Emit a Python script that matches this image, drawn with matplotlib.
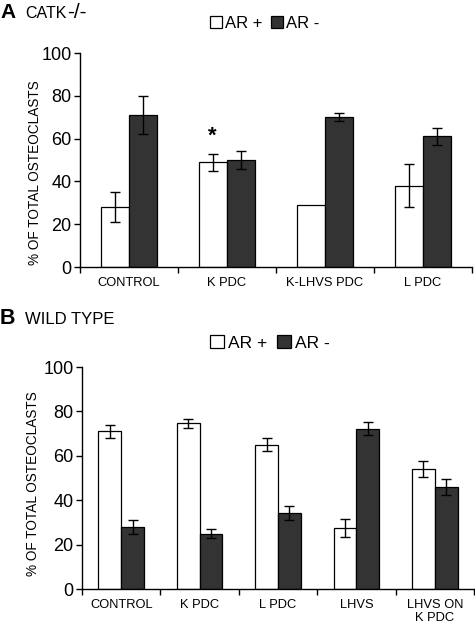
import matplotlib
matplotlib.use("Agg")
import matplotlib.pyplot as plt
import numpy as np

plt.rcParams["font.family"] = ["Liberation Sans", "DejaVu Sans"]

# ---------------------------------------------------------------------
# Data
# ---------------------------------------------------------------------
cats_a = ["CONTROL", "K PDC", "K-LHVS PDC", "L PDC"]
arpos_a = [28, 49, 29, 38]
arpos_err_a = [7, 4, 0, 10]
arneg_a = [71, 50, 70, 61]
arneg_err_a = [9, 4, 2, 4]

cats_b = ["CONTROL", "K PDC", "L PDC", "LHVS", "LHVS ON\nK PDC"]
arpos_b = [71, 74.6, 65, 27.5, 54]
arpos_err_b = [3, 2, 3, 4, 3.6]
arneg_b = [28, 25, 34.3, 72.2, 46]
arneg_err_b = [3, 1.9, 3, 3, 3.6]

yticks = [0, 20, 40, 60, 80, 100]
DARK = "#333333"
W = 475
H = 627


def draw_panel(ax, cats, pos, pos_err, neg, neg_err, width=0.29):
    x = np.arange(len(cats))
    ekw = dict(ecolor="black", elinewidth=1.0, capsize=3.5, capthick=1.0)
    b1 = ax.bar(x - width / 2, pos, width, color="white", edgecolor="black",
                linewidth=0.9, yerr=[e if e > 0 else np.nan for e in pos_err],
                error_kw=ekw)
    b2 = ax.bar(x + width / 2, neg, width, color=DARK, edgecolor="black",
                linewidth=0.9, yerr=neg_err, error_kw=ekw)
    ax.set_xlim(-0.5, len(cats) - 0.5)
    ax.set_ylim(0, 100)
    ax.set_yticks(yticks)
    ax.tick_params(axis="y", labelsize=13, length=4, width=1, pad=2)
    # boundary ticks without labels, category labels on minor ticks
    ax.set_xticks(np.arange(len(cats) + 1) - 0.5)
    ax.set_xticklabels([])
    ax.set_xticks(x, minor=True)
    ax.set_xticklabels(cats, minor=True, fontsize=9.3, linespacing=1.1)
    ax.tick_params(axis="x", which="major", length=4, width=1)
    ax.tick_params(axis="x", which="minor", length=0, pad=7)
    for s in ["top", "right"]:
        ax.spines[s].set_visible(False)
    for s in ["left", "bottom"]:
        ax.spines[s].set_linewidth(1)
    ax.set_ylabel("% OF TOTAL OSTEOCLASTS", fontsize=9.8)
    return b1, b2


fig = plt.figure(figsize=(W / 100, H / 100), dpi=100)

# Panel A
ax_a = fig.add_axes([80 / W, 1 - 267 / H, 392 / W, 214 / H])
ba1, ba2 = draw_panel(ax_a, cats_a, arpos_a, arpos_err_a, arneg_a, arneg_err_a)
ax_a.yaxis.set_label_coords(-0.097, 0.44)
ax_a.text(1 - 0.145, arpos_a[1] + arpos_err_a[1] + 3, "*", ha="center",
          va="bottom", fontsize=16, fontweight="bold")
fig.text(0 / W, 1 - 12 / H, "A", fontsize=15, fontweight="bold", va="center")
fig.text(25 / W, 1 - 13 / H, "CATK", fontsize=11.5, va="center")
fig.text(67 / W, 1 - 12 / H, "-/-", fontsize=15, va="center")
fig.legend([ba1, ba2], ["AR +", "AR -"], ncol=2, loc="center",
           bbox_to_anchor=(265 / W, 1 - 23 / H), frameon=False, fontsize=12,
           handlelength=0.7, handleheight=0.7, handletextpad=0.2,
           columnspacing=0.5, borderpad=0)

# Panel B
ax_b = fig.add_axes([82 / W, 1 - 589 / H, 392 / W, 222 / H])
bb1, bb2 = draw_panel(ax_b, cats_b, arpos_b, arpos_err_b, arneg_b, arneg_err_b)
ax_b.yaxis.set_label_coords(-0.106, 0.475)
fig.text(0 / W, 1 - 318 / H, "B", fontsize=15.5, fontweight="bold", va="center")
fig.text(25 / W, 1 - 319 / H, "WILD TYPE", fontsize=12, va="center")
fig.legend([bb1, bb2], ["AR +", "AR -"], ncol=2, loc="center",
           bbox_to_anchor=(270 / W, 1 - 343 / H), frameon=False, fontsize=12.5,
           handlelength=0.8, handleheight=0.8, handletextpad=0.2,
           columnspacing=0.6, borderpad=0)

fig.savefig("out.png", dpi=100)
